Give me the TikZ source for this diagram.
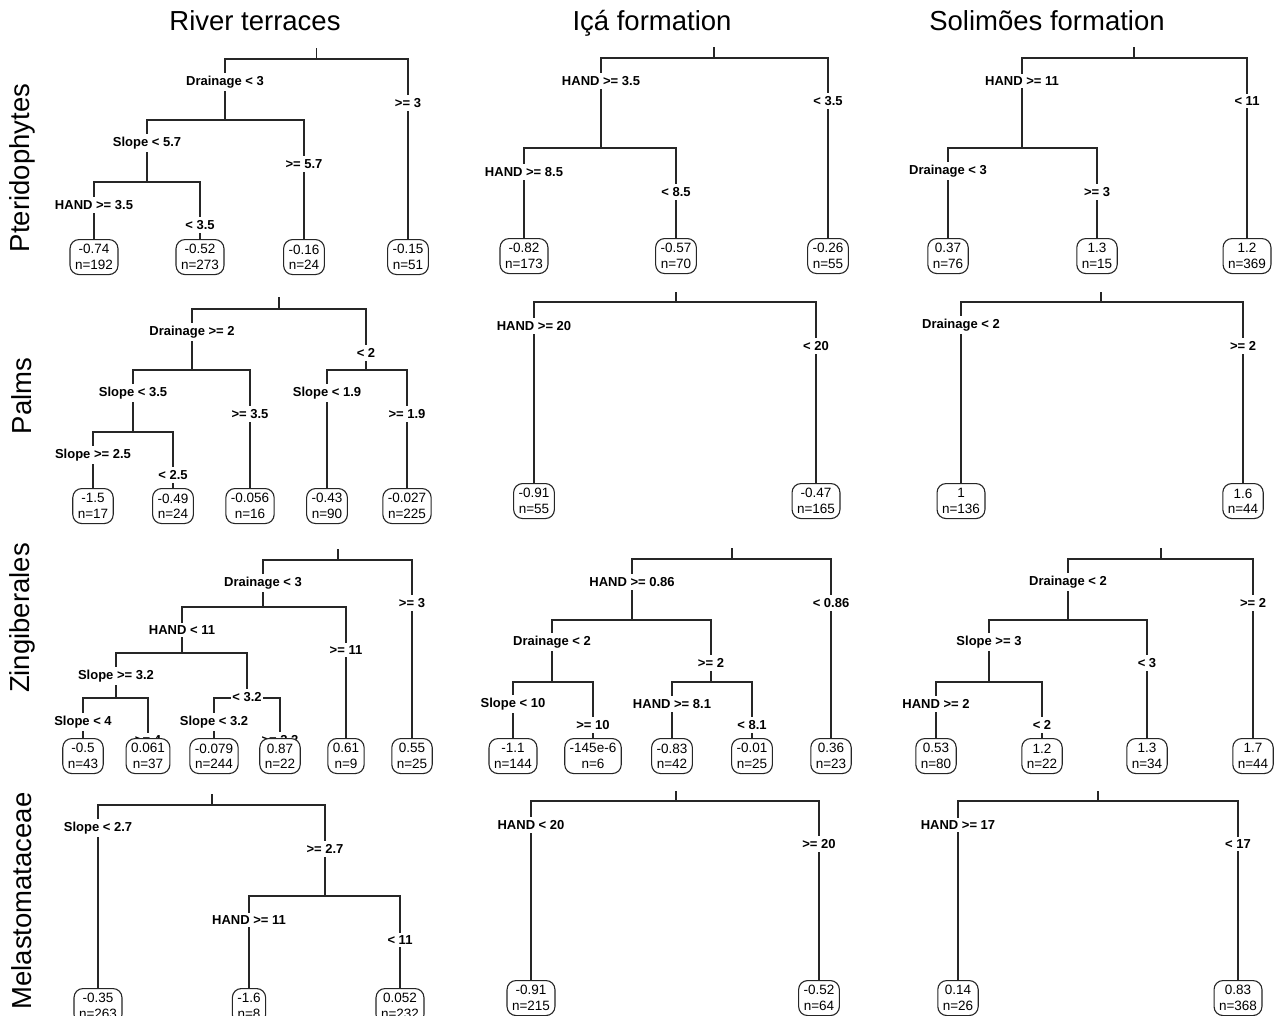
\documentclass[tikz,border=0pt]{standalone}
\usepackage{fontspec}
\setmainfont{Liberation Sans}
\pgfdeclarelayer{bg}
\pgfdeclarelayer{edges}
\pgfdeclarelayer{labels}
\pgfsetlayers{bg,edges,labels,main}
\tikzset{
  edge/.style={line width=1.1pt, draw=black!85},
  lab/.style={fill=white, font=\bfseries\fontsize{13}{15}\selectfont, inner xsep=1pt, inner ysep=3pt},
  leaf/.style={draw=black!85, line width=1.1pt, rounded corners=9pt, fill=white, align=center, anchor=north,
    font=\fontsize{13.5}{15.5}\selectfont, minimum height=35pt, inner xsep=5pt, inner ysep=2pt},
  ttl/.style={font=\fontsize{27.5}{30}\selectfont, anchor=base},
  rowl/.style={font=\fontsize{27.5}{30}\selectfont, rotate=90}
}
\begin{document}
\begin{tikzpicture}[x=1pt,y=-1pt]
\begin{pgfonlayer}{bg}
\fill[white] (0,0) rectangle (1279,1015);
\end{pgfonlayer}
\useasboundingbox (0,0) rectangle (1279,1015);

% titles and row labels
\node[ttl] (h1) at (255,30) {River terraces};
\node[ttl] (h2) at (652,30) {Içá formation};
\node[ttl] (h3) at (1047,30) {Solimões formation};
\node[rowl] (r1) at (22,168) {Pteridophytes};
\node[rowl] (r2) at (22,396) {Palms};
\node[rowl] (r3) at (22,618) {Zingiberales};
\node[rowl] (r4) at (22,901) {Melastomataceae};

% ================= Tree 1: Pteridophytes / River terraces
\coordinate (t1s) at (316.5,48);
\coordinate (t1n1) at (316.5,59);
\coordinate (t1n2) at (225,120);
\coordinate (t1n4) at (147,182);
\node[leaf] (t1a) at (94,239) {-0.74\\n=192};
\node[leaf] (t1b) at (200,239) {-0.52\\n=273};
\node[leaf] (t1c) at (304,239) {-0.16\\n=24};
\node[leaf] (t1d) at (408,239) {-0.15\\n=51};
\begin{pgfonlayer}{edges}
\draw[edge] (t1s) -- (t1n1);
\draw[edge] (t1n2) |- (t1n1) -| (t1d.north);
\draw[edge] (t1n4) |- (t1n2) -| (t1c.north);
\draw[edge] (t1a.north) |- (t1n4) -| (t1b.north);
\end{pgfonlayer}
\begin{pgfonlayer}{labels}
\node[lab] (t1l1) at (225,82) {Drainage < 3};
\node[lab] (t1l2) at (408,103) {>= 3};
\node[lab] (t1l3) at (147,143) {Slope < 5.7};
\node[lab] (t1l4) at (304,164) {>= 5.7};
\node[lab] (t1l5) at (94,205) {HAND >= 3.5};
\node[lab] (t1l6) at (200,225) {< 3.5};
\end{pgfonlayer}

% ================= Tree 2: Pteridophytes / Ica
\coordinate (t2s) at (714,47);
\coordinate (t2n1) at (714,58);
\coordinate (t2n2) at (601,148);
\node[leaf] (t2a) at (524,238) {-0.82\\n=173};
\node[leaf] (t2b) at (676,238) {-0.57\\n=70};
\node[leaf] (t2c) at (828,238) {-0.26\\n=55};
\begin{pgfonlayer}{edges}
\draw[edge] (t2s) -- (t2n1);
\draw[edge] (t2n2) |- (t2n1) -| (t2c.north);
\draw[edge] (t2a.north) |- (t2n2) -| (t2b.north);
\end{pgfonlayer}
\begin{pgfonlayer}{labels}
\node[lab] (t2l1) at (601,81) {HAND >= 3.5};
\node[lab] (t2l2) at (828,101) {< 3.5};
\node[lab] (t2l3) at (524,172) {HAND >= 8.5};
\node[lab] (t2l4) at (676,192) {< 8.5};
\end{pgfonlayer}

% ================= Tree 3: Pteridophytes / Solimoes
\coordinate (t3s) at (1134,47);
\coordinate (t3n1) at (1134,58);
\coordinate (t3n2) at (1022,148);
\node[leaf] (t3a) at (948,238) {0.37\\n=76};
\node[leaf] (t3b) at (1097,238) {1.3\\n=15};
\node[leaf] (t3c) at (1247,238) {1.2\\n=369};
\begin{pgfonlayer}{edges}
\draw[edge] (t3s) -- (t3n1);
\draw[edge] (t3n2) |- (t3n1) -| (t3c.north);
\draw[edge] (t3a.north) |- (t3n2) -| (t3b.north);
\end{pgfonlayer}
\begin{pgfonlayer}{labels}
\node[lab] (t3l1) at (1022,81) {HAND >= 11};
\node[lab] (t3l2) at (1247,101) {< 11};
\node[lab] (t3l3) at (948,171) {Drainage < 3};
\node[lab] (t3l4) at (1097,192) {>= 3};
\end{pgfonlayer}

% ================= Tree 4: Palms / River terraces
\coordinate (t4s) at (279,297);
\coordinate (t4n1) at (279,309);
\coordinate (t4n2) at (192,370);
\coordinate (t4n3) at (366,370);
\coordinate (t4n4) at (133,432);
\node[leaf] (t4a) at (93,488) {-1.5\\n=17};
\node[leaf] (t4b) at (173,488) {-0.49\\n=24};
\node[leaf] (t4c) at (250,488) {-0.056\\n=16};
\node[leaf] (t4d) at (327,488) {-0.43\\n=90};
\node[leaf] (t4e) at (407,488) {-0.027\\n=225};
\begin{pgfonlayer}{edges}
\draw[edge] (t4s) -- (t4n1);
\draw[edge] (t4n2) |- (t4n1) -| (t4n3);
\draw[edge] (t4n4) |- (t4n2) -| (t4c.north);
\draw[edge] (t4a.north) |- (t4n4) -| (t4b.north);
\draw[edge] (t4d.north) |- (t4n3) -| (t4e.north);
\end{pgfonlayer}
\begin{pgfonlayer}{labels}
\node[lab] (t4l1) at (192,332) {Drainage >= 2};
\node[lab] (t4l2) at (366,353) {< 2};
\node[lab] (t4l3) at (133,393) {Slope < 3.5};
\node[lab] (t4l4) at (250,414) {>= 3.5};
\node[lab] (t4l5) at (327,393) {Slope < 1.9};
\node[lab] (t4l6) at (407,414) {>= 1.9};
\node[lab] (t4l7) at (93,455) {Slope >= 2.5};
\node[lab] (t4l8) at (173,475) {< 2.5};
\end{pgfonlayer}

% ================= Tree 5: Palms / Ica
\coordinate (t5s) at (676,292);
\coordinate (t5n1) at (676,302);
\node[leaf] (t5a) at (534,483) {-0.91\\n=55};
\node[leaf] (t5b) at (816,483) {-0.47\\n=165};
\begin{pgfonlayer}{edges}
\draw[edge] (t5s) -- (t5n1);
\draw[edge] (t5a.north) |- (t5n1) -| (t5b.north);
\end{pgfonlayer}
\begin{pgfonlayer}{labels}
\node[lab] (t5l1) at (534,326) {HAND >= 20};
\node[lab] (t5l2) at (816,346) {< 20};
\end{pgfonlayer}

% ================= Tree 6: Palms / Solimoes
\coordinate (t6s) at (1101,292);
\coordinate (t6n1) at (1101,302);
\node[leaf] (t6a) at (961,483) {1\\n=136};
\node[leaf] (t6b) at (1243,483) {1.6\\n=44};
\begin{pgfonlayer}{edges}
\draw[edge] (t6s) -- (t6n1);
\draw[edge] (t6a.north) |- (t6n1) -| (t6b.north);
\end{pgfonlayer}
\begin{pgfonlayer}{labels}
\node[lab] (t6l1) at (961,325) {Drainage < 2};
\node[lab] (t6l2) at (1243,346) {>= 2};
\end{pgfonlayer}

% ================= Tree 7: Zingiberales / River terraces
\coordinate (t7s) at (338,549);
\coordinate (t7n1) at (338,560);
\coordinate (t7n2) at (263,607);
\coordinate (t7n4) at (182,653);
\coordinate (t7n8) at (116,698);
\coordinate (t7n9) at (247,698);
\node[leaf] (t7a) at (83,738) {-0.5\\n=43};
\node[leaf] (t7b) at (148,738) {0.061\\n=37};
\node[leaf] (t7c) at (214,738) {-0.079\\n=244};
\node[leaf] (t7d) at (280,738) {0.87\\n=22};
\node[leaf] (t7e) at (346,738) {0.61\\n=9};
\node[leaf] (t7f) at (412,738) {0.55\\n=25};
\begin{pgfonlayer}{edges}
\draw[edge] (t7s) -- (t7n1);
\draw[edge] (t7n2) |- (t7n1) -| (t7f.north);
\draw[edge] (t7n4) |- (t7n2) -| (t7e.north);
\draw[edge] (t7n8) |- (t7n4) -| (t7n9);
\draw[edge] (t7a.north) |- (t7n8) -| (t7b.north);
\draw[edge] (t7c.north) |- (t7n9) -| (t7d.north);
\end{pgfonlayer}
\begin{pgfonlayer}{labels}
\node[lab] (t7l1) at (263,583) {Drainage < 3};
\node[lab] (t7l2) at (412,603) {>= 3};
\node[lab] (t7l3) at (182,630) {HAND < 11};
\node[lab] (t7l4) at (346,650) {>= 11};
\node[lab] (t7l5) at (116,676) {Slope >= 3.2};
\node[lab] (t7l6) at (247,697) {< 3.2};
\node[lab] (t7l7) at (83,722) {Slope < 4};
\node[lab] (t7l8) at (148,740) {>= 4};
\node[lab] (t7l9) at (214,722) {Slope < 3.2};
\node[lab] (t7l10) at (280,740) {>= 3.2};
\end{pgfonlayer}

% ================= Tree 8: Zingiberales / Ica
\coordinate (t8s) at (732,548);
\coordinate (t8n1) at (732,559);
\coordinate (t8n2) at (632,620);
\coordinate (t8n4) at (552,682);
\coordinate (t8n5) at (711,682);
\node[leaf] (t8a) at (513,738) {-1.1\\n=144};
\node[leaf] (t8b) at (593,738) {-145e-6\\n=6};
\node[leaf] (t8c) at (672,738) {-0.83\\n=42};
\node[leaf] (t8d) at (752,738) {-0.01\\n=25};
\node[leaf] (t8e) at (831,738) {0.36\\n=23};
\begin{pgfonlayer}{edges}
\draw[edge] (t8s) -- (t8n1);
\draw[edge] (t8n2) |- (t8n1) -| (t8e.north);
\draw[edge] (t8n4) |- (t8n2) -| (t8n5);
\draw[edge] (t8a.north) |- (t8n4) -| (t8b.north);
\draw[edge] (t8c.north) |- (t8n5) -| (t8d.north);
\end{pgfonlayer}
\begin{pgfonlayer}{labels}
\node[lab] (t8l1) at (632,582) {HAND >= 0.86};
\node[lab] (t8l2) at (831,603) {< 0.86};
\node[lab] (t8l3) at (552,642) {Drainage < 2};
\node[lab] (t8l4) at (711,663) {>= 2};
\node[lab] (t8l5) at (513,704) {Slope < 10};
\node[lab] (t8l6) at (593,725) {>= 10};
\node[lab] (t8l7) at (672,704) {HAND >= 8.1};
\node[lab] (t8l8) at (752,725) {< 8.1};
\end{pgfonlayer}

% ================= Tree 9: Zingiberales / Solimoes
\coordinate (t9s) at (1161,548);
\coordinate (t9n1) at (1161,559);
\coordinate (t9n2) at (1068,620);
\coordinate (t9n4) at (989,682);
\node[leaf] (t9a) at (936,738) {0.53\\n=80};
\node[leaf] (t9b) at (1042,738) {1.2\\n=22};
\node[leaf] (t9c) at (1147,738) {1.3\\n=34};
\node[leaf] (t9d) at (1253,738) {1.7\\n=44};
\begin{pgfonlayer}{edges}
\draw[edge] (t9s) -- (t9n1);
\draw[edge] (t9n2) |- (t9n1) -| (t9d.north);
\draw[edge] (t9n4) |- (t9n2) -| (t9c.north);
\draw[edge] (t9a.north) |- (t9n4) -| (t9b.north);
\end{pgfonlayer}
\begin{pgfonlayer}{labels}
\node[lab] (t9l1) at (1068,582) {Drainage < 2};
\node[lab] (t9l2) at (1253,603) {>= 2};
\node[lab] (t9l3) at (989,642) {Slope >= 3};
\node[lab] (t9l4) at (1147,663) {< 3};
\node[lab] (t9l5) at (936,704) {HAND >= 2};
\node[lab] (t9l6) at (1042,725) {< 2};
\end{pgfonlayer}

% ================= Tree 10: Melastomataceae / River terraces
\coordinate (t10s) at (212,794);
\coordinate (t10n1) at (212,805);
\coordinate (t10n3) at (325,896);
\node[leaf] (t10a) at (98,988) {-0.35\\n=263};
\node[leaf] (t10b) at (249,988) {-1.6\\n=8};
\node[leaf] (t10c) at (400,988) {0.052\\n=232};
\begin{pgfonlayer}{edges}
\draw[edge] (t10s) -- (t10n1);
\draw[edge] (t10a.north) |- (t10n1) -| (t10n3);
\draw[edge] (t10b.north) |- (t10n3) -| (t10c.north);
\end{pgfonlayer}
\begin{pgfonlayer}{labels}
\node[lab] (t10l1) at (98,828) {Slope < 2.7};
\node[lab] (t10l2) at (325,849) {>= 2.7};
\node[lab] (t10l3) at (249,920) {HAND >= 11};
\node[lab] (t10l4) at (400,940) {< 11};
\end{pgfonlayer}

% ================= Tree 11: Melastomataceae / Ica
\coordinate (t11s) at (676,791);
\coordinate (t11n1) at (676,801);
\node[leaf] (t11a) at (531,980) {-0.91\\n=215};
\node[leaf] (t11b) at (819,980) {-0.52\\n=64};
\begin{pgfonlayer}{edges}
\draw[edge] (t11s) -- (t11n1);
\draw[edge] (t11a.north) |- (t11n1) -| (t11b.north);
\end{pgfonlayer}
\begin{pgfonlayer}{labels}
\node[lab] (t11l1) at (531,825) {HAND < 20};
\node[lab] (t11l2) at (819,844) {>= 20};
\end{pgfonlayer}

% ================= Tree 12: Melastomataceae / Solimoes
\coordinate (t12s) at (1098,791);
\coordinate (t12n1) at (1098,801);
\node[leaf] (t12a) at (958,980) {0.14\\n=26};
\node[leaf] (t12b) at (1238,980) {0.83\\n=368};
\begin{pgfonlayer}{edges}
\draw[edge] (t12s) -- (t12n1);
\draw[edge] (t12a.north) |- (t12n1) -| (t12b.north);
\end{pgfonlayer}
\begin{pgfonlayer}{labels}
\node[lab] (t12l1) at (958,825) {HAND >= 17};
\node[lab] (t12l2) at (1238,844) {< 17};
\end{pgfonlayer}
\end{tikzpicture}
\end{document}
